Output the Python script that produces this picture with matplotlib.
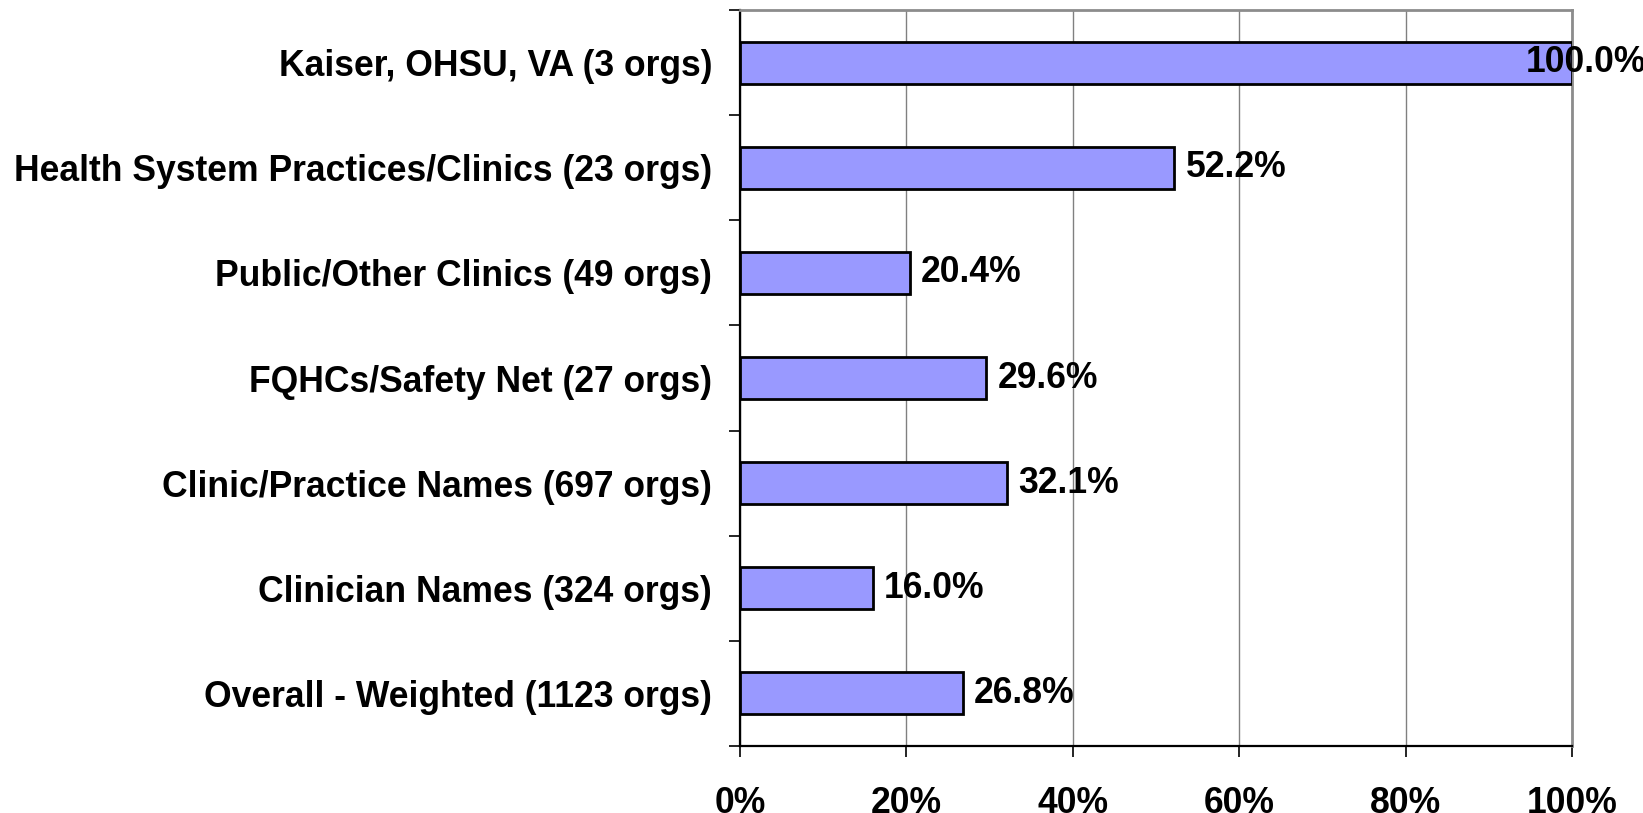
import matplotlib
matplotlib.use("Agg")
import matplotlib.pyplot as plt
import numpy as np
from matplotlib.ticker import FixedLocator, PercentFormatter

# ── data ──────────────────────────────────────────────────────────────────────
categories = [
    "Kaiser, OHSU, VA (3 orgs)",
    "Health System Practices/Clinics (23 orgs)",
    "Public/Other Clinics (49 orgs)",
    "FQHCs/Safety Net (27 orgs)",
    "Clinic/Practice Names (697 orgs)",
    "Clinician Names (324 orgs)",
    "Overall - Weighted (1123 orgs)",
]
values = [100.0, 52.2, 20.4, 29.6, 32.1, 16.0, 26.8]
x_ticks = [0, 20, 40, 60, 80, 100]

plt.rcParams["font.family"] = ["Liberation Sans", "DejaVu Sans"]
plt.rcParams["font.weight"] = "bold"
FS = 25.6

fig = plt.figure(figsize=(16.43, 8.13), dpi=100)
ax = fig.add_axes([0.4504, 0.0824, 0.5064, 0.9053])

y = np.arange(len(categories))
ax.barh(y, values, height=0.4, color="#9999FF", edgecolor="black",
        linewidth=2.0, zorder=3)

ax.set_xlim(0, 100)
ax.set_ylim(len(categories) - 0.5, -0.5)

# gridlines / frame
ax.set_xticks(x_ticks)
ax.xaxis.set_major_formatter(PercentFormatter(decimals=0))
ax.grid(axis="x", color="#808080", linewidth=1.0, zorder=0)
for side in ("top", "right"):
    ax.spines[side].set_color("#8c8c8c")
    ax.spines[side].set_linewidth(2.0)
for side in ("left", "bottom"):
    ax.spines[side].set_color("black")
    ax.spines[side].set_linewidth(1.6)

ax.tick_params(axis="x", direction="out", length=8, width=1.2,
               pad=21, labelsize=FS)

# category labels at bar centres, tick marks at category boundaries
ax.set_yticks(y)
ax.set_yticklabels(categories, fontsize=FS, fontweight="bold")
ax.tick_params(axis="y", which="major", length=0, pad=20)
ax.yaxis.set_minor_locator(FixedLocator(np.arange(-0.5, len(categories), 1.0)))
ax.tick_params(axis="y", which="minor", direction="out", length=8, width=1.2)

for lbl in ax.get_xticklabels():
    lbl.set_fontweight("bold")

# value labels
for yi, v in zip(y, values):
    dx = 8 if v < 90 else -33
    ax.annotate(f"{v:.1f}%", xy=(v, yi), xytext=(dx, 0),
                textcoords="offset points", ha="left", va="center",
                fontsize=FS, fontweight="bold", zorder=5,
                annotation_clip=False)

fig.savefig("out.png", dpi=100)
